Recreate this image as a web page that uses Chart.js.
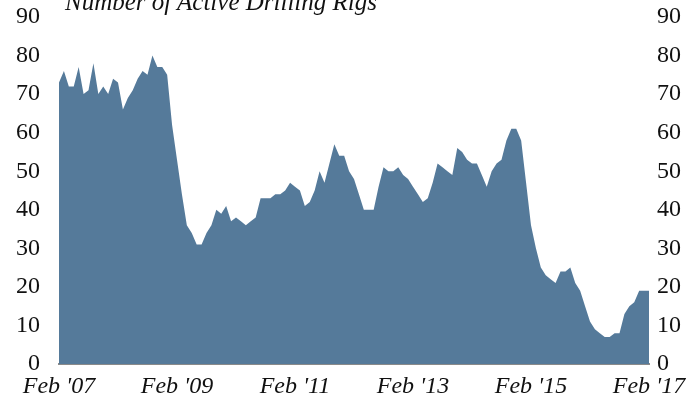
<!DOCTYPE html>
<html>
<head>
<meta charset="utf-8">
<script src="https://cdn.jsdelivr.net/npm/chart.js@4/dist/chart.umd.min.js"></script>
<style>
  html, body { margin: 0; padding: 0; background: #fff; overflow: hidden; }
  .rig-wrap { position: relative; width: 700px; height: 407px; }
  .rig-title { position: absolute; left: 65px; top: -11px; font: italic 25px "Liberation Serif", serif; line-height: 25px; color: #111; white-space: nowrap; }
</style>
</head>
<body>
<div class="rig-wrap">
  <canvas id="rigs" width="700" height="407"></canvas>
  <div class="rig-title">Number of Active Drilling Rigs</div>
</div>
<script>
// monthly rig count, Feb '07 .. Feb '17
const rigCounts = [
  73, 76, 72, 72, 77, 70, 71, 78, 70, 72, 70, 74, 73, 66, 69, 71, 74, 76, 75, 80,
  77, 77, 75, 62, 53, 44, 36, 34, 31, 31, 34, 36, 40, 39, 41, 37, 38, 37, 36, 37,
  38, 43, 43, 43, 44, 44, 45, 47, 46, 45, 41, 42, 45, 50, 47, 52, 57, 54, 54, 50,
  48, 44, 40, 40, 40, 46, 51, 50, 50, 51, 49, 48, 46, 44, 42, 43, 47, 52, 51, 50,
  49, 56, 55, 53, 52, 52, 49, 46, 50, 52, 53, 58, 61, 61, 58, 47, 36, 30, 25, 23,
  22, 21, 24, 24, 25, 21, 19, 15, 11, 9, 8, 7, 7, 8, 8, 13, 15, 16, 19, 19,
  19
]
const tickMonths = [0, 24, 48, 72, 96, 120]
const tickLabels = ["Feb '07", "Feb '09", "Feb '11", "Feb '13", "Feb '15", "Feb '17"]
const yTicks = [0, 10, 20, 30, 40, 50, 60, 70, 80, 90]

const FILL = '#557a9a'
const INK = '#111'
const serif = { family: '"Liberation Serif", serif', size: 24 }

// fixed width for a value axis, and no extra room above/below for its labels
const fitValueAxis = w => s => {
  s.width = w
  s.paddingTop = 0
  s.paddingBottom = 0
}

new Chart(document.getElementById('rigs'), {
  type: 'line',
  data: {
    datasets: [{
      data: rigCounts.map((v, i) => ({ x: i, y: v })),
      backgroundColor: FILL,
      borderColor: FILL,
      borderWidth: 0,
      pointRadius: 0,
      tension: 0,
      fill: 'origin'
    }]
  },
  options: {
    responsive: false,
    animation: false,
    layout: { padding: { top: 17, left: 0, right: 0, bottom: 0 } },
    plugins: { legend: { display: false }, tooltip: { enabled: false } },
    scales: {
      x: {
        type: 'linear',
        min: 0,
        max: 120,
        afterBuildTicks: s => { s.ticks = tickMonths.map(v => ({ value: v })) },
        afterFit: s => { s.height = 43; s.paddingLeft = 0; s.paddingRight = 0 },
        ticks: {
          color: INK,
          font: { ...serif, style: 'italic' },
          padding: 8,
          maxRotation: 0,
          autoSkip: false,
          callback: v => tickLabels[tickMonths.indexOf(v)]
        },
        grid: { display: false, drawTicks: false },
        border: { display: true, color: '#8a8a8a', width: 2 }
      },
      y: {
        position: 'left',
        min: 0,
        max: 90,
        afterBuildTicks: s => { s.ticks = yTicks.map(v => ({ value: v })) },
        afterFit: fitValueAxis(59),
        ticks: { color: INK, font: serif, padding: 19 },
        grid: { display: false, drawTicks: false },
        border: { display: false }
      },
      y2: {
        position: 'right',
        min: 0,
        max: 90,
        afterBuildTicks: s => { s.ticks = yTicks.map(v => ({ value: v })) },
        afterFit: fitValueAxis(51),
        ticks: { color: INK, font: serif, padding: 8 },
        grid: { display: false, drawTicks: false },
        border: { display: false }
      }
    }
  }
})
</script>
</body>
</html>
